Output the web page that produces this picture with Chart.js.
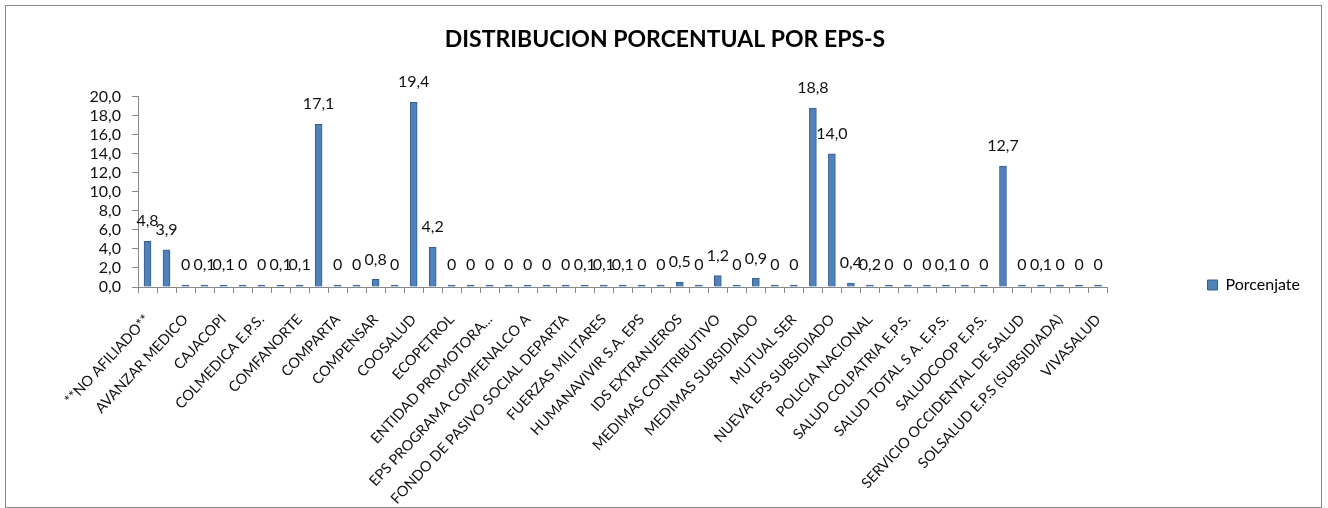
<!DOCTYPE html>
<html lang="es">
<head>
    <meta charset="UTF-8">
    <title>Distribucion porcentual por EPS-S</title>
    <script src="https://cdn.jsdelivr.net/npm/chart.js"></script>
    <style>
        body { margin: 0; background: #fff; }
        #marco {
            position: absolute; left: 5px; top: 5px;
            width: 1317px; height: 503px;
            border: 1px solid #888; box-sizing: border-box;
        }
    </style>
</head>
<body>
    <div id="marco"><canvas id="grafica" width="1315" height="501"></canvas></div>

    <script>
        // Categorias (solo se rotulan las impares, como en el original)
        var eps = [
            '**NO AFILIADO**', 'ASMET SALUD', 'AVANZAR MEDICO', 'CAFESALUD', 'CAJACOPI',
            'CAPRECOM', 'COLMEDICA E.P.S.', 'COMFAMILIAR HUILA', 'COMFANORTE', 'COMFAORIENTE',
            'COMPARTA', 'COMPARTA EPS-S', 'COMPENSAR', 'COOMEVA E.P.S.', 'COOSALUD',
            'ECOOPSOS', 'ECOPETROL', 'EMDISALUD', 'ENTIDAD PROMOTORA...', 'EPS CONVIDA',
            'EPS PROGRAMA COMFENALCO A', 'FAMISANAR', 'FONDO DE PASIVO SOCIAL DEPARTA', 'FUERZA AEREA', 'FUERZAS MILITARES',
            'GOBERNACION', 'HUMANAVIVIR S.A. EPS', 'IDS', 'IDS EXTRANJEROS', 'MALLAMAS',
            'MEDIMAS CONTRIBUTIVO', 'MEDIMAS EPS', 'MEDIMAS SUBSIDIADO', 'MINISTERIO', 'MUTUAL SER',
            'NUEVA EPS', 'NUEVA EPS SUBSIDIADO', 'PARTICULAR', 'POLICIA NACIONAL', 'REGIMEN ESPECIAL',
            'SALUD COLPATRIA E.P.S.', 'SALUD TOTAL', 'SALUD TOTAL S A. E.P.S.', 'SALUD VIDA', 'SALUDCOOP E.P.S.',
            'SANITAS E.P.S.', 'SERVICIO OCCIDENTAL DE SALUD', 'SISBEN', 'SOLSALUD E.P.S (SUBSIDIADA)', 'SURAMERICANA',
            'VIVASALUD'
        ];

        var porcentajes = [
            4.8, 3.9, 0, 0.1, 0.1,
            0, 0, 0.1, 0.1, 17.1,
            0, 0, 0.8, 0, 19.4,
            4.2, 0, 0, 0, 0,
            0, 0, 0, 0.1, 0.1,
            0.1, 0, 0, 0.5, 0,
            1.2, 0, 0.9, 0, 0,
            18.8, 14.0, 0.4, 0.2, 0,
            0, 0, 0.1, 0, 0,
            12.7, 0, 0.1, 0, 0,
            0
        ];

        var ejeYMin = 0;
        var ejeYMax = 20;
        var ejeYPaso = 2;

        var fuente = 'Lato, "Open Sans", sans-serif';
        var gris = '#888888';

        function coma(v, dec) {
            return v.toFixed(dec).replace('.', ',');
        }

        // Etiquetas de datos encima de cada barra
        var etiquetasDatos = {
            id: 'etiquetasDatos',
            afterDatasetsDraw: function(chart) {
                var ctx = chart.ctx;
                var meta = chart.getDatasetMeta(0);
                ctx.save();
                ctx.font = '16px ' + fuente;
                ctx.fillStyle = '#111';
                ctx.textAlign = 'center';
                ctx.textBaseline = 'middle';
                meta.data.forEach(function(barra, i) {
                    var v = porcentajes[i];
                    var txt = v === 0 ? '0' : coma(v, 1);
                    ctx.fillText(txt, barra.x, barra.y - 20);
                });
                ctx.restore();
            }
        };

        var ctx = document.getElementById('grafica').getContext('2d');
        var grafica = new Chart(ctx, {
            type: 'bar',
            data: {
                labels: eps,
                datasets: [{
                    label: 'Porcenjate',
                    data: porcentajes,
                    backgroundColor: '#4F81BD',
                    borderColor: '#385D8A',
                    borderWidth: 1,
                    barThickness: 7,
                    minBarLength: 2
                }]
            },
            options: {
                responsive: false,
                animation: false,
                layout: { padding: { left: 14, right: 11, top: 0, bottom: 0 } },
                plugins: {
                    title: {
                        display: true,
                        text: 'DISTRIBUCION PORCENTUAL POR EPS-S',
                        color: '#000',
                        font: { family: fuente, size: 23, weight: 'bold', lineHeight: 1.2 },
                        padding: { top: 20, bottom: 43 }
                    },
                    legend: {
                        position: 'right',
                        title: { display: true, text: ' ', font: { size: 12, lineHeight: 1 }, padding: { top: 22, bottom: 23 } },
                        labels: {
                            color: '#000',
                            font: { family: fuente, size: 16 },
                            boxWidth: 10,
                            boxHeight: 10,
                            padding: 100
                        }
                    },
                    tooltip: { enabled: false }
                },
                scales: {
                    x: {
                        afterFit: function(scale) { scale.height = 220; },
                        grid: {
                            offset: true,
                            drawOnChartArea: false,
                            color: gris,
                            tickLength: 6
                        },
                        border: { display: true, color: gris },
                        ticks: {
                            autoSkip: false,
                            minRotation: 47,
                            maxRotation: 47,
                            padding: 18,
                            color: '#111',
                            font: { family: fuente, size: 14.5 },
                            callback: function(valor, indice) {
                                return indice % 2 === 0 ? eps[indice] : '';
                            }
                        }
                    },
                    y: {
                        min: ejeYMin,
                        max: ejeYMax,
                        afterFit: function(scale) { scale.width = 118; },
                        grid: {
                            drawOnChartArea: false,
                            color: gris,
                            tickLength: 6
                        },
                        border: { display: true, color: gris },
                        ticks: {
                            stepSize: ejeYPaso,
                            autoSkip: false,
                            padding: 11,
                            color: '#111',
                            font: { family: fuente, size: 16 },
                            callback: function(valor) { return coma(valor, 1); }
                        }
                    }
                }
            },
            plugins: [etiquetasDatos]
        });
    </script>
</body>
</html>
